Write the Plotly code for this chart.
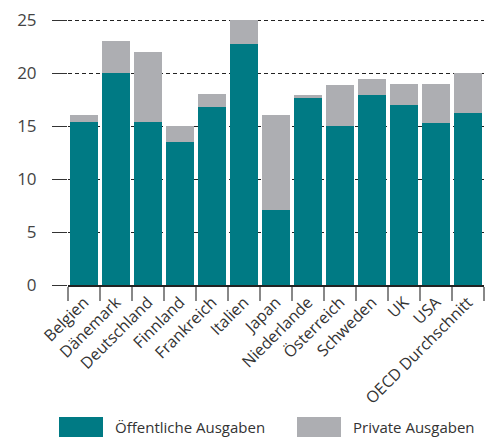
import plotly.graph_objects as go

countries = ["Belgien", "Dänemark", "Deutschland", "Finnland", "Frankreich", "Italien",
             "Japan", "Niederlande", "Österreich", "Schweden", "UK", "USA", "OECD Durchschnitt"]
public = [15.4, 20.0, 15.4, 13.5, 16.8, 22.7, 7.1, 17.6, 15.0, 17.9, 17.0, 15.3, 16.2]
total = [16.0, 23.0, 22.0, 15.0, 18.0, 25.0, 16.0, 17.9, 18.9, 19.4, 19.0, 19.0, 20.0]
private = [round(t - p, 2) for t, p in zip(total, public)]
y_ticks = [0, 5, 10, 15, 20, 25]

TEAL = "#007A84"
GRAY = "#ADAEB2"
FONT = "Open Sans"

fig = go.Figure()
fig.add_bar(x=countries, y=public, name="Öffentliche Ausgaben", marker_color=TEAL,
            marker_line_width=0)
fig.add_bar(x=countries, y=private, name="Private Ausgaben", marker_color=GRAY,
            marker_line_width=0)

fig.update_layout(
    width=485, height=439,
    barmode="stack", bargap=0.125,
    margin=dict(l=68, r=1, t=18, b=154),
    plot_bgcolor="white", paper_bgcolor="white",
    showlegend=False,
    font=dict(family=FONT, size=14, color="#333333"),
)
fig.update_xaxes(
    type="category", tickangle=-45, tickson="boundaries",
    ticks="outside", ticklen=14, tickcolor="#888888", tickwidth=1.5,
    showline=True, linecolor="#222222", linewidth=1.5,
    showgrid=False, tickfont=dict(size=16, color="#333333"),
)
fig.update_yaxes(
    range=[0, 25.19], tickvals=y_ticks, ticks="outside", ticklen=15,
    tickcolor="#333333", tickwidth=1.2, ticklabelstandoff=12,
    showgrid=True, gridcolor="#222222", gridwidth=1, griddash="4px,3px",
    zeroline=False, showline=False,
    tickfont=dict(size=17, color="#444444"),
)

# custom legend
plot_h = 439 - 18 - 154
legend_items = [("Öffentliche Ausgaben", TEAL, 59), ("Private Ausgaben", GRAY, 297)]
for name, color, x0 in legend_items:
    fig.add_shape(type="rect", xref="paper", yref="paper",
                  x0=(x0 - 68) / 416, x1=(x0 + 44 - 68) / 416,
                  y0=-(437 - 285) / plot_h, y1=-(417 - 285) / plot_h,
                  fillcolor=color, line_width=0)
    fig.add_annotation(text=name, xref="paper", yref="paper",
                       x=(x0 + 54 - 68) / 416, y=-(427 - 285) / plot_h,
                       xanchor="left", yanchor="middle", showarrow=False,
                       font=dict(size=15, color="#333333"))

fig.write_html(
    "out.html",
    config={"displayModeBar": False},
    post_script="document.body.style.margin='0';document.body.style.overflow='hidden';",
)
